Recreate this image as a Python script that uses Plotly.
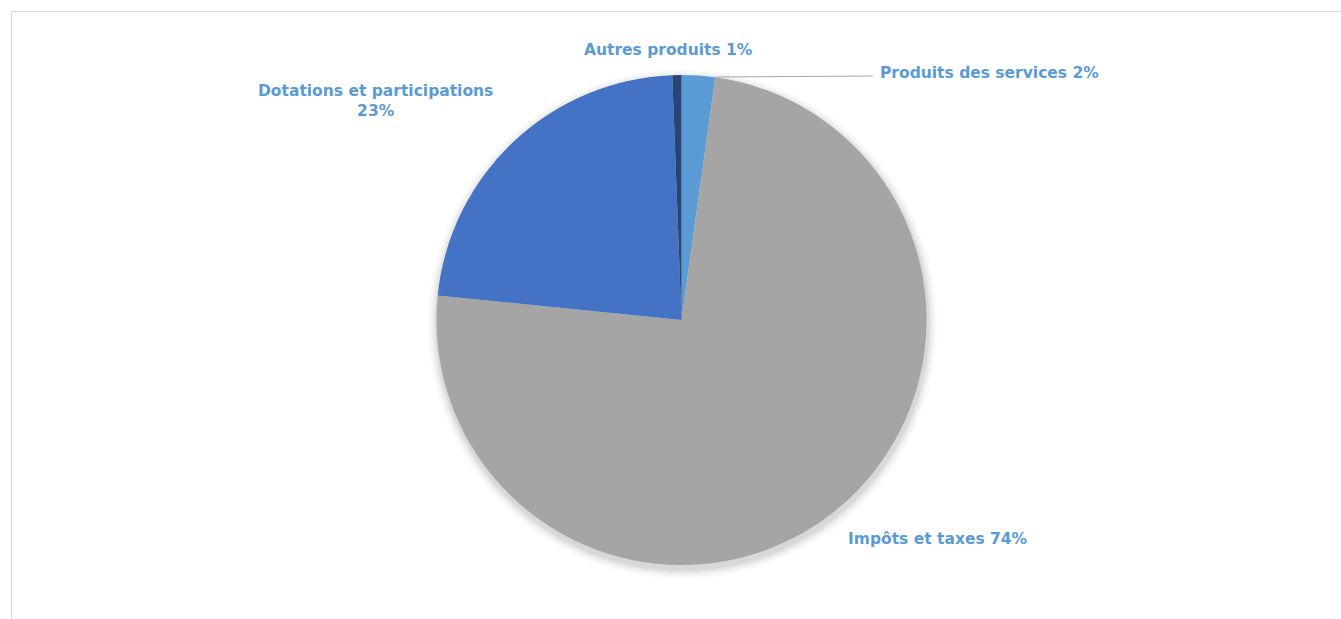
import plotly.graph_objects as go

# Data
categories = ["Produits des services", "Impôts et taxes", "Dotations et participations", "Autres produits"]
values = [2.2, 74.4, 22.8, 0.6]
colors = ["#5B9BD5", "#A5A5A5", "#4472C4", "#264478"]

W, H = 1341, 619
total = sum(values)
pct = [round(v / total * 100) for v in values]

def px(x):
    return x / W

def py(y):
    return 1 - y / H

cx, cy, r = 681.5, 320, 245

fig = go.Figure()
fig.add_trace(go.Pie(
    labels=categories,
    values=values,
    sort=False,
    direction="clockwise",
    rotation=0,
    marker=dict(colors=colors, line=dict(width=0)),
    textinfo="none",
    hoverinfo="label+percent",
    showlegend=False,
    domain=dict(x=[px(cx - r), px(cx + r)], y=[py(cy + r), py(cy - r)]),
))

label_font = dict(family="'DejaVu Sans', sans-serif", size=15.5, color="#5B9BD5", weight="bold")

# label positions (layout)
label_pos = {
    "Produits des services": (989, 73, "{} {}%"),
    "Impôts et taxes": (938, 539, "{} {}%"),
    "Dotations et participations": (376, 101, "{}<br>{}%"),
    "Autres produits": (668, 50, "{} {}%"),
}
annotations = []
for name, p in zip(categories, pct):
    x, y, fmt = label_pos[name]
    annotations.append(dict(
        x=px(x), y=py(y), xref="paper", yref="paper",
        text="<b>" + fmt.format(name, p) + "</b>",
        showarrow=False, xanchor="center", yanchor="middle",
        font=label_font, align="center",
    ))

shapes = []
# soft shadow
for dr, op in [(10, 0.015), (8, 0.02), (6, 0.03), (4, 0.04), (2, 0.05)]:
    shapes.append(dict(
        type="circle", xref="paper", yref="paper", layer="below",
        x0=px(cx - r - dr + 1), x1=px(cx + r + dr + 1),
        y0=py(cy + 4 + r + dr), y1=py(cy + 4 - r - dr),
        fillcolor=f"rgba(0,0,0,{op})", line=dict(width=0),
    ))
# leader line
shapes.append(dict(type="line", xref="paper", yref="paper",
                   x0=px(716), y0=py(77), x1=px(873), y1=py(76),
                   line=dict(color="#A6A6A6", width=1)))
# chart frame
shapes.append(dict(type="line", xref="paper", yref="paper",
                   x0=px(11.5), y0=py(11.5), x1=1.0, y1=py(11.5),
                   line=dict(color="#D9D9D9", width=1)))
shapes.append(dict(type="line", xref="paper", yref="paper",
                   x0=px(11.5), y0=py(11.5), x1=px(11.5), y1=0,
                   line=dict(color="#D9D9D9", width=1)))

fig.update_layout(
    width=W, height=H,
    margin=dict(l=0, r=0, t=0, b=0),
    paper_bgcolor="white",
    plot_bgcolor="white",
    annotations=annotations,
    shapes=shapes,
)

fig.write_html("out.html")
